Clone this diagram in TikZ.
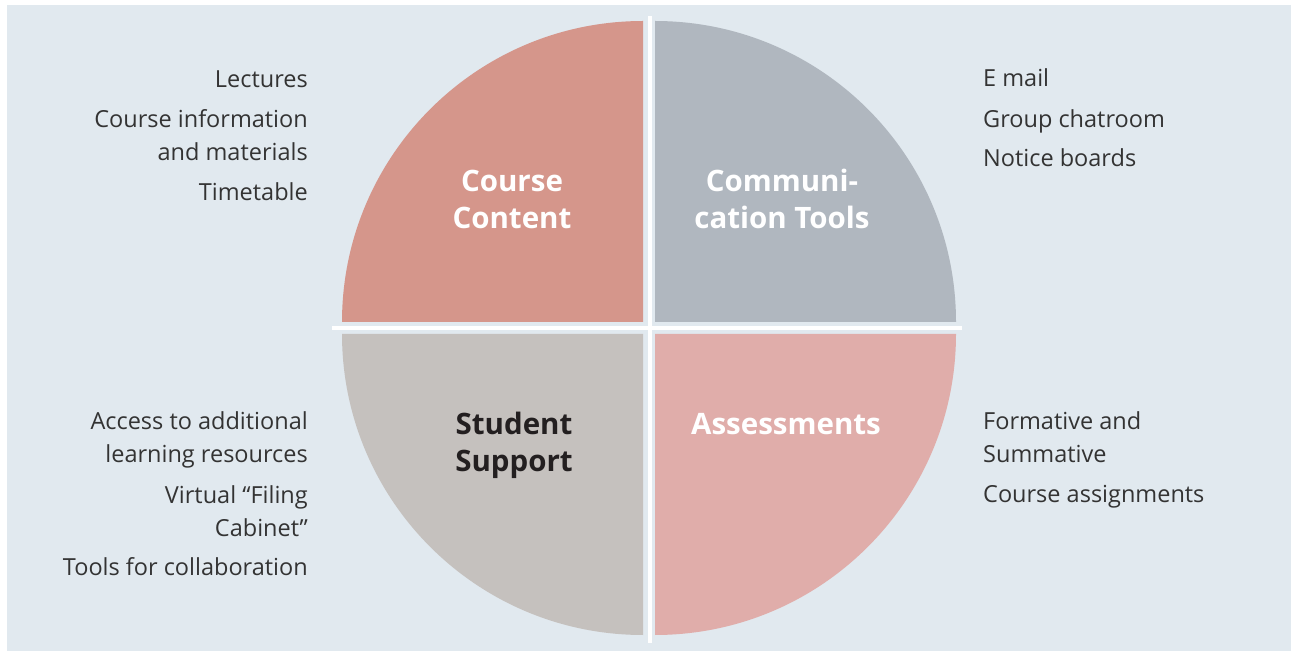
\documentclass[tikz,border=0pt]{standalone}
\usepackage{fontspec}
\setmainfont{Open Sans}
\usepackage{xcolor}

\definecolor{bgblue}{HTML}{E1E9EF}
\definecolor{contentred}{HTML}{D5968B}
\definecolor{commgrey}{HTML}{B0B7BF}
\definecolor{supportgrey}{HTML}{C5C1BE}
\definecolor{assesspink}{HTML}{E0ADAA}
\definecolor{bodytext}{HTML}{333333}
\definecolor{darktitle}{HTML}{231F20}

\tikzset{
    item/.style={inner sep=0pt, text=bodytext, font=\fontsize{23.5}{33}\selectfont},
    itemleft/.style={item, anchor=base east, align=right},
    itemright/.style={item, anchor=base west, align=left},
    quartertitle/.style={inner sep=0pt, anchor=base, align=center,
        font=\fontsize{29.5}{37}\selectfont\bfseries}
}

\begin{document}
\begin{tikzpicture}[x=1pt, y=1pt]
    % Frame and background
    \useasboundingbox (0,0) rectangle (1291,651);
    \fill[bgblue] (7,0) rectangle (1291,646);

    % Draw the four quarters
    \fill[contentred] (643,329) -- ++(-301,0) arc[start angle=180, end angle=90, radius=301] -- cycle;
    \fill[commgrey] (655,329) -- ++(0,301) arc[start angle=90, end angle=0, radius=301] -- cycle;
    \fill[supportgrey] (643,317) -- ++(0,-301) arc[start angle=270, end angle=180, radius=301] -- cycle;
    \fill[assesspink] (655,317) -- ++(301,0) arc[start angle=0, end angle=-90, radius=301] -- cycle;

    % White cross
    \fill[white] (332,321) rectangle (962,325);
    \fill[white] (648,8) rectangle (652,635);

    % Quarter titles (base = last line)
    \node[quartertitle, text=white] (content) at (512,422) {Course\\Content};
    \node[quartertitle, text=white] (comm) at (782,422) {Communi-\\cation Tools};
    \node[quartertitle, text=darktitle] (support) at (514,179) {Student\\Support};
    \node[quartertitle, text=white] (assess) at (786,216) {Assessments};

    % -- top left
    \node[itemleft] (lectures) at (308,563) {Lectures};
    \node[itemleft] (courseinfo) at (308,490) {Course information\\and materials};
    \node[itemleft] (timetable) at (308,450) {Timetable};

    % -- top right
    \node[itemright] (email) at (983,564) {E mail};
    \node[itemright] (chatroom) at (983,523) {Group chatroom};
    \node[itemright] (notice) at (983,484) {Notice boards};

    % -- bottom left
    \node[itemleft] (access) at (308,188) {Access to additional\\learning resources};
    \node[itemleft] (filing) at (308,114) {Virtual \textquotedblleft Filing\\Cabinet\textquotedblright};
    \node[itemleft] (collab) at (308,75) {Tools for collaboration};

    % -- bottom right
    \node[itemright] (formative) at (983,188) {Formative and\\Summative};
    \node[itemright] (assignments) at (983,148) {Course assignments};
\end{tikzpicture}
\end{document}
